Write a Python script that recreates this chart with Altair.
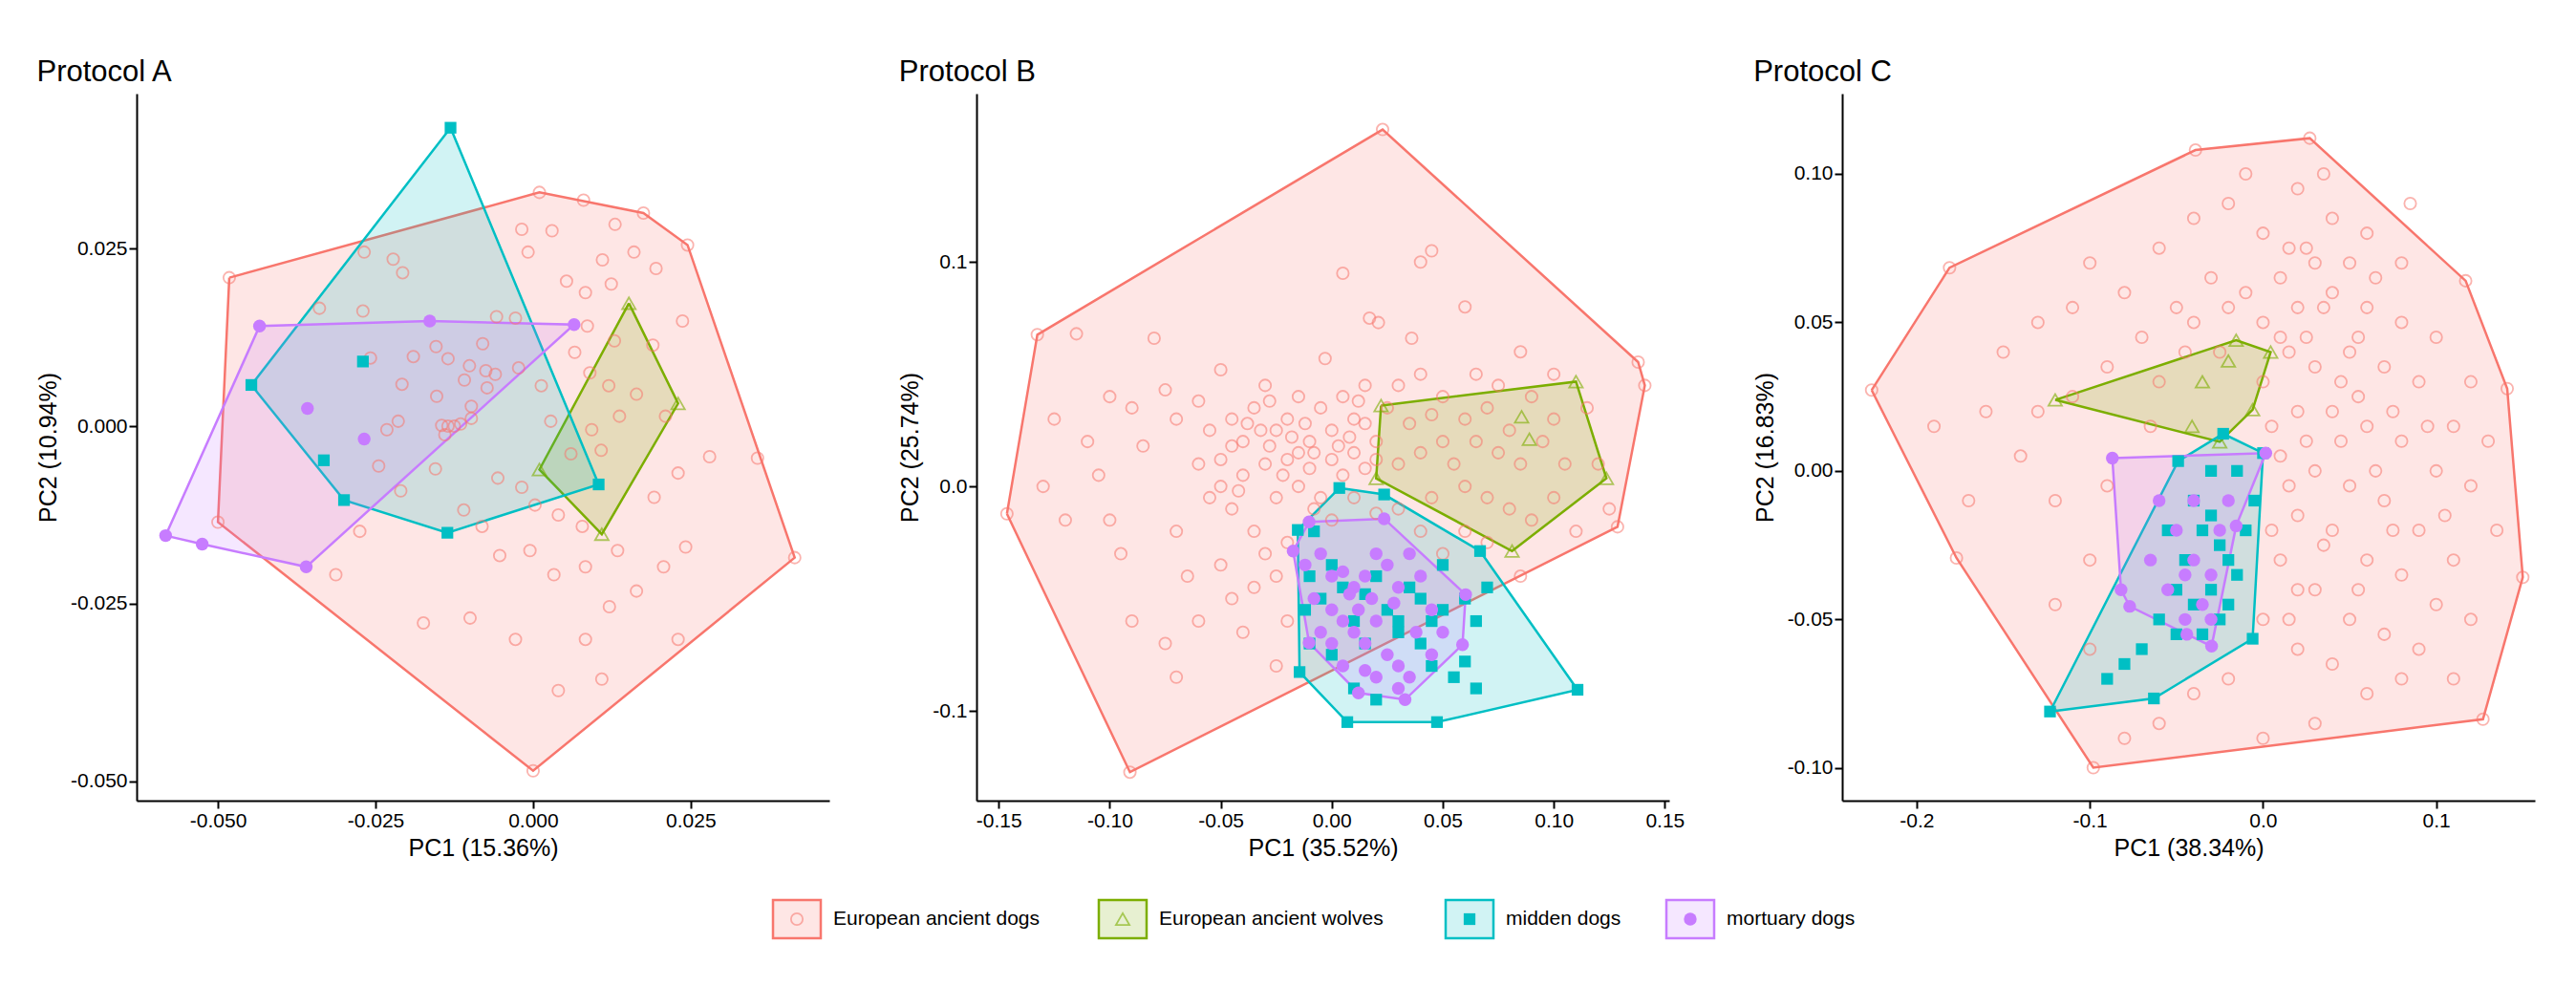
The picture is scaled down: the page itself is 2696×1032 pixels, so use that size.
import altair as alt
import pandas as pd

GROUPS = ["European ancient dogs", "European ancient wolves", "midden dogs", "mortuary dogs"]
COLORS = ["#F8766D", "#7CAE00", "#00BFC4", "#C77CFF"]
FONT = "Liberation Sans"

# ------------------------------------------------------------------------------
# Protocol A
a_dogs_hull = [(-0.0482, 0.0209), (0.001, 0.0329), (0.0175, 0.030), (0.0245, 0.0255),
               (0.0415, -0.0185), (0.0, -0.0485), (-0.050, -0.0135)]
a_dogs = [(-0.0268, 0.0245), (-0.0222, 0.0235), (-0.0207, 0.0216), (-0.0339, 0.0166), (-0.027, 0.0162),
          (-0.0258, 0.0096), (-0.019, 0.0098), (-0.0154, 0.0112), (-0.0135, 0.0095), (-0.0101, 0.0085),
          (-0.0075, 0.0078), (-0.0109, 0.0065), (-0.0208, 0.0059), (-0.0153, 0.0042), (-0.0098, 0.0028),
          (-0.0214, 0.0007), (-0.0232, -0.0005), (-0.0145, 0.0001), (-0.0135, 0.0), (-0.0125, 0.0),
          (-0.0115, 0.0003), (-0.014, -0.0012), (-0.0245, -0.0056), (-0.0155, -0.006),
          (-0.0018, 0.0277), (-0.0008, 0.0245), (0.003, 0.0275), (0.008, 0.0318), (0.013, 0.0284),
          (0.016, 0.0245), (0.011, 0.0234), (0.0053, 0.0204), (0.0083, 0.0188), (0.0124, 0.020),
          (0.0195, 0.0222), (0.0237, 0.0148), (0.019, 0.0114), (0.0129, 0.012), (0.009, 0.0075),
          (0.012, 0.0057), (0.0137, 0.0014), (0.0108, -0.0034), (0.006, -0.0039), (0.0028, 0.0007),
          (0.0013, 0.0057), (-0.0023, 0.0082), (-0.006, 0.0073), (-0.008, 0.0116), (-0.0058, 0.0154),
          (-0.0028, 0.0152), (-0.0073, 0.0054), (-0.0098, 0.0011), (-0.011, -0.0118), (-0.0081, -0.0141),
          (-0.0056, -0.0073), (-0.0018, -0.0086), (0.0003, -0.0111), (0.004, -0.0125), (0.0078, -0.0141),
          (0.0083, -0.0198), (0.0033, -0.0209), (-0.0005, -0.0175), (-0.0053, -0.0182), (-0.010, -0.027),
          (-0.0028, -0.030), (0.004, -0.0372), (0.0109, -0.0356), (0.0083, -0.030), (0.0121, -0.0254),
          (0.0164, -0.0232), (0.0134, -0.0175), (0.0192, -0.010), (0.023, -0.0066), (0.028, -0.0043),
          (0.0356, -0.0045), (0.0242, -0.017), (0.0207, -0.0198), (0.023, -0.030), (-0.0313, -0.0209),
          (-0.0275, -0.0148), (-0.0174, -0.0277), (-0.021, -0.0091), (0.0093, -0.0005), (0.0066, 0.0104),
          (0.0086, 0.0141), (0.0164, 0.0045), (0.021, 0.0014)]
a_wolves_hull = [(0.0152, 0.0173), (0.023, 0.0032), (0.0109, -0.0152), (0.001, -0.0061)]
a_wolves = []
a_midden_hull = [(-0.0131, 0.042), (0.0104, -0.0082), (-0.0136, -0.015), (-0.030, -0.0104), (-0.0447, 0.0058)]
a_midden = [(-0.027, 0.0091), (-0.0332, -0.0048)]
a_mortuary_hull = [(-0.0583, -0.0154), (-0.0434, 0.0141), (-0.0164, 0.0148), (0.0065, 0.0143),
                   (-0.036, -0.0198), (-0.0525, -0.0166)]
a_mortuary = [(-0.0358, 0.0025), (-0.0268, -0.0018)]

# ------------------------------------------------------------------------------
# Protocol B
b_dogs_hull = [(-0.1463, -0.0122), (-0.1326, 0.0676), (0.0229, 0.159), (0.138, 0.0554),
               (0.141, 0.045), (0.1287, -0.018), (-0.0909, -0.1273)]
b_dogs = [(-0.115, 0.068), (-0.08, 0.066), (-0.05, 0.052), (0.005, 0.095), (0.04, 0.10), (0.045, 0.105),
          (0.021, 0.073), (0.017, 0.075), (0.036, 0.066), (-0.003, 0.057), (0.06, 0.08), (-0.10, 0.04),
          (-0.09, 0.035), (-0.075, 0.043), (-0.07, 0.03), (-0.085, 0.018), (-0.11, 0.02), (-0.10, -0.015),
          (-0.12, -0.015), (-0.095, -0.03), (-0.06, 0.038), (-0.055, 0.025), (-0.045, 0.03), (-0.04, 0.02),
          (-0.035, 0.035), (-0.03, 0.045), (-0.025, 0.025), (-0.02, 0.03), (-0.015, 0.04), (-0.01, 0.02),
          (-0.005, 0.035), (0.0, 0.025), (0.005, 0.04), (0.01, 0.03), (0.015, 0.045), (0.02, 0.02),
          (0.025, 0.035), (0.03, 0.045), (0.035, 0.028), (0.04, 0.05), (0.045, 0.032), (0.05, 0.04),
          (-0.06, 0.01), (-0.055, -0.005), (-0.05, 0.012), (-0.045, -0.01), (-0.04, 0.005), (-0.035, -0.02),
          (-0.03, 0.01), (-0.025, -0.005), (-0.02, 0.012), (-0.015, 0.0), (-0.01, 0.008), (-0.005, -0.005),
          (0.0, 0.012), (0.005, 0.005), (0.01, 0.015), (0.015, 0.008), (0.02, 0.012), (-0.045, 0.018),
          (-0.038, 0.028), (-0.028, 0.018), (-0.018, 0.022), (-0.008, 0.015), (0.003, 0.018),
          (-0.07, -0.02), (-0.065, -0.04), (-0.05, -0.035), (-0.045, -0.05), (-0.035, -0.045),
          (-0.03, -0.03), (-0.025, -0.04), (-0.02, -0.025), (-0.06, -0.06), (-0.075, -0.07),
          (-0.04, -0.065), (-0.025, -0.08), (-0.02, -0.06), (-0.09, -0.06), (-0.07, -0.085),
          (0.03, 0.01), (0.04, 0.015), (0.05, 0.02), (0.055, 0.01), (0.06, 0.03), (0.065, 0.02),
          (0.07, 0.035), (0.075, 0.015), (0.08, 0.025), (0.085, 0.01), (0.09, 0.04), (0.095, 0.02),
          (0.10, 0.03), (0.105, 0.01), (0.06, 0.0), (0.07, -0.005), (0.08, -0.01), (0.09, -0.015),
          (0.10, -0.005), (0.115, 0.035), (0.12, 0.01), (0.03, -0.01), (0.045, -0.005), (0.06, -0.02),
          (0.05, -0.03), (0.04, -0.02), (0.07, -0.025), (0.085, -0.04), (0.065, 0.05), (0.075, 0.045),
          (0.085, 0.06), (0.1, 0.05), (0.11, -0.02), (0.125, -0.01), (-0.13, 0.0), (-0.125, 0.03),
          (-0.105, 0.005), (0.0, -0.015), (0.01, -0.005), (0.02, -0.012), (0.015, 0.028),
          (-0.012, 0.028), (-0.022, 0.005), (-0.032, 0.025), (-0.042, -0.002), (-0.008, -0.01),
          (0.008, 0.022), (0.012, 0.038), (-0.028, 0.038), (-0.05, 0.0), (-0.015, 0.015)]
b_wolves_hull = [(0.0222, 0.036), (0.110, 0.0467), (0.1237, 0.0036), (0.0812, -0.0288), (0.020, 0.0036)]
b_wolves = [(0.0855, 0.031), (0.089, 0.021)]
b_midden_hull = [(0.0034, -0.0007), (0.0236, -0.0036), (0.0668, -0.0288), (0.1107, -0.0906),
                 (0.0474, -0.105), (0.007, -0.105), (-0.0145, -0.0827), (-0.0153, -0.0194)]
b_midden = [(-0.008, -0.02), (-0.01, -0.04), (-0.012, -0.055), (-0.005, -0.05), (0.0, -0.035), (0.005, -0.045),
            (0.01, -0.06), (0.015, -0.048), (0.02, -0.04), (0.025, -0.055), (0.03, -0.06), (0.035, -0.045),
            (0.04, -0.05), (0.045, -0.06), (0.05, -0.055), (0.06, -0.05), (0.065, -0.06), (0.07, -0.045),
            (0.04, -0.07), (0.045, -0.08), (0.055, -0.085), (0.06, -0.078), (0.065, -0.09), (-0.01, -0.07),
            (0.0, -0.075), (0.01, -0.09), (0.02, -0.095), (0.03, -0.065), (0.015, -0.07), (0.05, -0.035)]
b_mortuary_hull = [(-0.0102, -0.0158), (0.0236, -0.0144), (0.0603, -0.0482), (0.0589, -0.0705),
                   (0.033, -0.095), (0.012, -0.092), (-0.0102, -0.0697), (-0.0174, -0.0288)]
b_mortuary = [(-0.005, -0.03), (-0.012, -0.035), (0.0, -0.04), (0.005, -0.038), (0.01, -0.045), (0.015, -0.04),
              (0.02, -0.03), (0.025, -0.035), (0.03, -0.045), (0.035, -0.03), (0.04, -0.04), (0.045, -0.055),
              (0.05, -0.065), (0.0, -0.055), (0.005, -0.06), (0.01, -0.065), (0.012, -0.055), (0.015, -0.07),
              (0.02, -0.06), (0.025, -0.075), (0.03, -0.08), (0.035, -0.085), (0.03, -0.09), (0.0, -0.07),
              (0.005, -0.08), (-0.005, -0.065), (0.02, -0.085), (0.045, -0.075), (0.038, -0.065),
              (0.008, -0.048), (-0.008, -0.05), (0.015, -0.082), (0.028, -0.052), (0.018, -0.05)]

# ------------------------------------------------------------------------------
# Protocol C
c_dogs_hull = [(-0.226, 0.0272), (-0.181, 0.0684), (-0.039, 0.108), (0.027, 0.112), (0.117, 0.064),
               (0.141, 0.0277), (0.150, -0.0358), (0.127, -0.0836), (-0.098, -0.0999), (-0.177, -0.0293)]
c_dogs = [(-0.15, 0.04), (-0.13, 0.05), (-0.11, 0.055), (-0.16, 0.02), (-0.19, 0.015), (-0.14, 0.005),
          (-0.12, -0.01), (-0.17, -0.01), (-0.10, 0.07), (-0.08, 0.06), (-0.06, 0.075), (-0.04, 0.085),
          (-0.02, 0.09), (0.0, 0.08), (0.02, 0.095), (0.04, 0.085), (0.06, 0.08), (0.08, 0.07), (0.05, 0.07),
          (0.03, 0.07), (0.01, 0.065), (-0.01, 0.06), (-0.03, 0.065), (-0.05, 0.055), (-0.07, 0.045),
          (-0.09, 0.035), (-0.06, 0.03), (-0.04, 0.05), (-0.02, 0.055), (0.0, 0.05), (0.02, 0.055),
          (0.04, 0.06), (0.06, 0.055), (0.08, 0.05), (0.1, 0.045), (0.12, 0.03), (0.015, 0.04),
          (0.03, 0.035), (0.05, 0.04), (0.07, 0.035), (0.09, 0.03), (0.11, 0.015), (0.02, 0.02),
          (0.04, 0.02), (0.06, 0.015), (0.08, 0.01), (0.1, 0.0), (0.12, -0.005), (0.135, -0.02),
          (0.01, 0.005), (0.03, 0.0), (0.05, -0.005), (0.07, -0.01), (0.09, -0.02), (0.11, -0.03),
          (0.02, -0.015), (0.04, -0.02), (0.06, -0.03), (0.08, -0.035), (0.1, -0.045), (0.12, -0.05),
          (0.01, -0.03), (0.03, -0.04), (0.05, -0.05), (0.07, -0.055), (0.09, -0.06), (0.11, -0.07),
          (0.0, -0.05), (0.02, -0.06), (0.04, -0.065), (0.06, -0.075), (0.08, -0.07), (-0.02, -0.07),
          (-0.04, -0.075), (-0.06, -0.085), (-0.08, -0.09), (0.0, -0.09), (0.03, -0.085), (-0.1, -0.06),
          (-0.12, -0.045), (-0.1, -0.03), (-0.09, -0.005), (-0.11, 0.025), (-0.13, 0.02), (0.0, 0.03),
          (0.015, -0.005), (0.025, 0.045), (0.045, 0.01), (0.065, 0.065), (0.085, 0.09), (0.035, 0.1),
          (-0.01, 0.1), (0.055, 0.025), (0.075, -0.02), (0.095, 0.015), (0.105, -0.015), (0.13, 0.01),
          (0.015, 0.075), (-0.025, 0.04), (-0.045, 0.04), (-0.065, 0.015), (0.005, -0.02), (0.02, -0.04),
          (0.01, 0.045), (0.035, 0.055), (0.055, 0.045), (0.005, 0.015), (0.025, 0.01), (0.045, 0.03),
          (0.065, 0.0), (0.035, -0.025), (0.015, -0.05), (0.055, -0.04), (0.075, 0.02), (0.025, 0.075)]
c_wolves_hull = [(-0.120, 0.0239), (-0.0155, 0.044), (0.0044, 0.040), (-0.006, 0.0206), (-0.025, 0.0098)]
c_wolves = [(-0.041, 0.015), (-0.02, 0.037), (-0.035, 0.03)]
c_midden_hull = [(-0.123, -0.081), (-0.049, 0.0033), (-0.023, 0.0125), (0.0, 0.006),
                 (-0.006, -0.0565), (-0.063, -0.0766)]
c_midden = [(-0.04, -0.01), (-0.035, -0.02), (-0.03, -0.015), (-0.025, -0.025), (-0.02, -0.03), (-0.045, -0.03),
            (-0.05, -0.04), (-0.04, -0.045), (-0.03, -0.04), (-0.02, -0.045), (-0.015, -0.035), (-0.01, -0.02),
            (-0.005, -0.01), (-0.06, -0.05), (-0.07, -0.06), (-0.08, -0.065), (-0.09, -0.07), (-0.05, -0.055),
            (-0.035, -0.055), (-0.025, -0.05), (-0.015, 0.0), (-0.03, 0.0), (-0.055, -0.02)]
c_mortuary_hull = [(-0.087, 0.0043), (0.0016, 0.006), (-0.0155, -0.0185), (-0.0297, -0.059),
                   (-0.044, -0.055), (-0.077, -0.0456), (-0.082, -0.040)]
c_mortuary = [(-0.06, -0.01), (-0.05, -0.02), (-0.045, -0.035), (-0.04, -0.03), (-0.035, -0.045), (-0.03, -0.035),
              (-0.025, -0.02), (-0.02, -0.01), (-0.04, -0.01), (-0.055, -0.04), (-0.065, -0.03), (-0.03, -0.05),
              (-0.045, -0.05)]

PANELS = [
    dict(title="Protocol A", xt="PC1 (15.36%)", yt="PC2 (10.94%)",
         xd=[-0.0629, 0.047], yd=[-0.0527, 0.0468],
         xv=[-0.05, -0.025, 0.0, 0.025], yv=[-0.05, -0.025, 0.0, 0.025], xf=".3f", yf=".3f",
         groups=[(a_dogs_hull, a_dogs), (a_wolves_hull, a_wolves), (a_midden_hull, a_midden), (a_mortuary_hull, a_mortuary)]),
    dict(title="Protocol B", xt="PC1 (35.52%)", yt="PC2 (25.74%)",
         xd=[-0.16, 0.152], yd=[-0.140, 0.175],
         xv=[-0.15, -0.1, -0.05, 0.0, 0.05, 0.1, 0.15], yv=[-0.1, 0.0, 0.1], xf=".2f", yf=".1f",
         groups=[(b_dogs_hull, b_dogs), (b_wolves_hull, b_wolves), (b_midden_hull, b_midden), (b_mortuary_hull, b_mortuary)]),
    dict(title="Protocol C", xt="PC1 (38.34%)", yt="PC2 (16.83%)",
         xd=[-0.243, 0.157], yd=[-0.111, 0.127],
         xv=[-0.2, -0.1, 0.0, 0.1], yv=[-0.1, -0.05, 0.0, 0.05, 0.1], xf=".1f", yf=".2f",
         groups=[(c_dogs_hull, c_dogs), (c_wolves_hull, c_wolves), (c_midden_hull, c_midden), (c_mortuary_hull, c_mortuary)]),
]

color_scale = alt.Scale(domain=GROUPS, range=COLORS)
SHAPES = {GROUPS[0]: ("circle", False, 150, 0.55), GROUPS[1]: ("triangle-up", False, 200, 0.6),
          GROUPS[2]: ("square", True, 150, 1.0), GROUPS[3]: ("circle", True, 180, 1.0)}


def axis(values, fmt, title_pad):
    return alt.Axis(values=values, labelExpr=f"replace(format(datum.value, '{fmt}'), '\u2212', '-')",
                    grid=False, domainColor="black", domainWidth=2, tickColor="black", tickWidth=2,
                    tickSize=8, labelFontSize=21, labelColor="black", titleFontSize=25,
                    titleFontWeight="normal", titleColor="black", titlePadding=title_pad,
                    labelFont=FONT, titleFont=FONT)


def panel(p):
    hull_rows, pt_rows = [], []
    for g, (hull, pts) in zip(GROUPS, p["groups"]):
        for i, (x, y) in enumerate(hull + hull[:1]):
            hull_rows.append(dict(group=g, order=i, x=x, y=y))
        for x, y in pts + hull:
            pt_rows.append(dict(group=g, x=x, y=y))
    hulls = pd.DataFrame(hull_rows)
    pts = pd.DataFrame(pt_rows)

    x = alt.X("x:Q", scale=alt.Scale(domain=p["xd"], nice=False, zero=False), title=p["xt"],
              axis=axis(p["xv"], p["xf"], 6))
    y = alt.Y("y:Q", scale=alt.Scale(domain=p["yd"], nice=False, zero=False), title=p["yt"],
              axis=axis(p["yv"], p["yf"], 10))

    layers = []
    for g in GROUPS:
        layers.append(
            alt.Chart(hulls[hulls.group == g]).mark_line(strokeWidth=2.5, fillOpacity=0.18)
            .encode(x=x, y=y, order="order:Q",
                    color=alt.Color("group:N", scale=color_scale, legend=None),
                    fill=alt.Fill("group:N", scale=color_scale, legend=None))
        )
    for g in GROUPS:
        shape, filled, size, op = SHAPES[g]
        layers.append(
            alt.Chart(pts[pts.group == g]).mark_point(shape=shape, filled=filled, size=size,
                                                      opacity=op, strokeWidth=1.8)
            .encode(x=x, y=y, color=alt.Color("group:N", scale=color_scale, legend=None))
        )
    return alt.layer(*layers).properties(
        width=725, height=740,
        title=alt.TitleParams(p["title"], anchor="start", fontSize=31, font=FONT,
                              fontWeight="normal", color="black", offset=6),
    )


panels = alt.hconcat(*[panel(p) for p in PANELS], spacing=72)

# legend built as a small chart
leg = pd.DataFrame(dict(group=GROUPS))
widths = [len(g) * 11 + 110 for g in GROUPS]
leg["pos"] = [sum(widths[:i]) for i in range(len(GROUPS))]
leg["left"] = leg["pos"] - 25
leg["right"] = leg["pos"] + 25
total = sum(widths)
lx = alt.X("pos:Q", scale=alt.Scale(domain=[-30, total - 30], nice=False, zero=False), axis=None)
lc = alt.Color("group:N", scale=color_scale, legend=None)
layers = [
    alt.Chart(leg).mark_rect(fillOpacity=0.18, strokeWidth=2.5)
    .encode(x=alt.X("left:Q", scale=alt.Scale(domain=[-30, total - 30], nice=False, zero=False), axis=None),
            x2="right:Q", y=alt.value(0), y2=alt.value(40),
            stroke=alt.Stroke("group:N", scale=color_scale, legend=None),
            fill=alt.Fill("group:N", scale=color_scale, legend=None)),
]
for g in GROUPS:
    shape, filled, size, op = SHAPES[g]
    layers.append(
        alt.Chart(leg[leg.group == g]).mark_point(shape=shape, filled=filled, size=size, opacity=op, strokeWidth=1.8)
        .encode(x=lx, y=alt.value(20), color=lc)
    )
layers.append(
    alt.Chart(leg).mark_text(align="left", dx=38, fontSize=21, font=FONT, color="black")
    .encode(x=lx, y=alt.value(20), text="group:N")
)
legend = alt.layer(*layers).properties(width=total, height=40)

chart = (
    alt.vconcat(panels, legend, spacing=40, center=True)
    .properties(background="white", padding={"left": 30, "top": 52, "right": 10, "bottom": 10})
    .configure_view(strokeWidth=0)
)

chart.save("out.html", embed_options={"renderer": "svg", "actions": False})
